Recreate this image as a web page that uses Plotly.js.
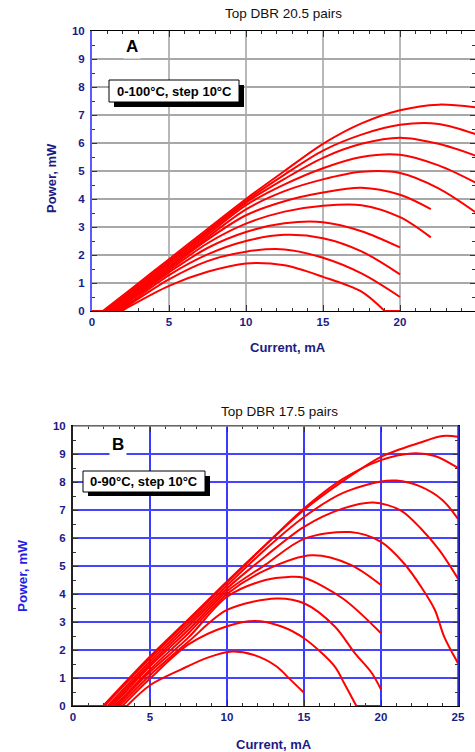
<!DOCTYPE html>
<html>
<head>
<meta charset="utf-8">
<script src="https://cdn.plot.ly/plotly-3.0.1.min.js"></script>
<style>html,body{margin:0;padding:0;background:#fff;}#chart{width:475px;height:752px;}</style>
</head>
<body>
<div id="chart"></div>
<script>
// ---------- Panel A: Top DBR 20.5 pairs (0-100 °C, step 10 °C) ----------
const tempsA = [0, 10, 20, 30, 40, 50, 60, 70, 80, 90, 100];
const currentA = [
  [0, 0.7, 2.5, 5, 7.5, 10, 12.5, 15, 17.5, 20, 22.5, 25],
  [0, 0.85, 2.5, 5, 7.5, 10, 12.5, 15, 17.5, 20, 22.5, 25],
  [0, 1.0, 2.5, 5, 7.5, 10, 12.5, 15, 17.5, 20, 22.5, 25],
  [0, 1.1, 2.5, 5, 7.5, 10, 12.5, 15, 17.5, 20, 22.5, 25],
  [0, 1.2, 2.5, 5, 7.5, 10, 12.5, 15, 17.5, 20, 22.5, 25],
  [0, 1.35, 2.5, 5, 7.5, 10, 12.5, 15, 17.5, 20, 22],
  [0, 1.5, 2.5, 5, 7.5, 10, 12.5, 15, 17.5, 20, 22],
  [0, 1.6, 2.5, 5, 7.5, 10, 12.5, 15, 17.5, 20],
  [0, 1.75, 2.5, 5, 7.5, 10, 12.5, 15, 17.5, 20],
  [0, 1.85, 2.5, 5, 7.5, 10, 12.5, 15, 17.5, 20],
  [0, 1.95, 2.5, 5, 7.5, 10, 12.5, 15, 17.5, 19, 20]
];
const powerA = [
  [0, 0, 0.77, 1.85, 2.93, 4.0, 5.0, 5.97, 6.7, 7.17, 7.37, 7.27],
  [0, 0, 0.7, 1.78, 2.86, 3.93, 4.87, 5.73, 6.3, 6.65, 6.68, 6.3],
  [0, 0, 0.63, 1.72, 2.8, 3.87, 4.72, 5.47, 5.97, 6.19, 5.97, 5.53],
  [0, 0, 0.57, 1.65, 2.72, 3.78, 4.52, 5.1, 5.5, 5.58, 5.2, 4.56],
  [0, 0, 0.52, 1.58, 2.63, 3.63, 4.28, 4.7, 4.97, 4.93, 4.38, 3.49],
  [0, 0, 0.46, 1.52, 2.55, 3.42, 3.92, 4.23, 4.4, 4.15, 3.64],
  [0, 0, 0.4, 1.45, 2.42, 3.12, 3.55, 3.76, 3.78, 3.35, 2.63],
  [0, 0, 0.37, 1.38, 2.25, 2.82, 3.13, 3.17, 2.85, 2.27],
  [0, 0, 0.3, 1.28, 2.02, 2.5, 2.72, 2.6, 2.13, 1.31],
  [0, 0, 0.25, 1.13, 1.78, 2.12, 2.2, 1.9, 1.34, 0.5],
  [0, 0, 0.18, 0.9, 1.4, 1.7, 1.63, 1.22, 0.69, 0, 0]
];

// ---------- Panel B: Top DBR 17.5 pairs (0-90 °C, step 10 °C) ----------
const tempsB = [0, 10, 20, 30, 40, 50, 60, 70, 80, 90];
const currentB = [
  [0, 1.95, 5, 7.5, 10, 12.5, 15, 17.5, 20, 22.5, 24, 25],
  [0, 2.05, 5, 7.5, 10, 12.5, 15, 17.5, 20, 22, 23.5, 25],
  [0, 2.25, 5, 7.5, 10, 12.5, 15, 17.5, 20, 21, 22.5, 24, 25],
  [0, 2.4, 5, 7.5, 10, 12.5, 15, 17.5, 19.5, 21.3, 22.6, 23.8, 25],
  [0, 2.55, 5, 7.5, 10, 12.5, 15, 18, 20, 21.5, 22.6, 23.5, 24.1, 25],
  [0, 2.7, 5, 7.5, 10, 12.5, 15.5, 18, 20],
  [0, 2.85, 5, 7.5, 10, 12.5, 14, 15, 17.5, 20],
  [0, 3.0, 5, 7.5, 10, 13.2, 15, 17, 18.3, 19.4, 20],
  [0, 3.2, 5, 7.5, 10, 11.8, 13.5, 15, 17, 17.6, 18.4, 20],
  [0, 3.5, 5, 7, 8.7, 10.2, 11.7, 13.2, 14.1, 15]
];
const powerB = [
  [0, 0, 1.77, 3.1, 4.45, 5.75, 7.0, 8.02, 8.9, 9.4, 9.64, 9.62],
  [0, 0, 1.7, 3.05, 4.4, 5.75, 7.05, 8.1, 8.78, 9.02, 8.93, 8.5],
  [0, 0, 1.6, 2.95, 4.3, 5.6, 6.75, 7.6, 8.02, 8.05, 7.85, 7.35, 6.68],
  [0, 0, 1.5, 2.85, 4.2, 5.35, 6.4, 7.05, 7.27, 6.98, 6.33, 5.56, 4.55],
  [0, 0, 1.42, 2.72, 4.1, 5.05, 5.97, 6.21, 5.86, 5.09, 4.26, 3.43, 2.48, 1.53],
  [0, 0, 1.3, 2.6, 4.0, 4.85, 5.38, 5.05, 4.32],
  [0, 0, 1.22, 2.45, 3.9, 4.5, 4.61, 4.58, 3.85, 2.6],
  [0, 0, 1.1, 2.3, 3.43, 3.84, 3.67, 2.84, 1.89, 1.18, 0.59],
  [0, 0, 0.98, 2.2, 2.85, 3.04, 2.85, 2.42, 1.41, 0.82, 0, 0],
  [0, 0, 0.74, 1.3, 1.72, 1.94, 1.83, 1.42, 0.95, 0.47]
];

const titleA = 'Top DBR 20.5 pairs';
const titleB = 'Top DBR 17.5 pairs';
const noteA = '0-100°C, step 10°C';
const noteB = '0-90°C, step 10°C';
const xTitle = 'Current, mA';
const yTitle = 'Power, mW';

// ---------- build ----------
const W = 475, H = 752;
const X = px => px / W;
const Y = py => 1 - py / H;
const FONT = 'Liberation Sans, Arial, Helvetica, sans-serif';
const NAVY = '#1b1b86';
const RED = '#ff0000';

const traces = [];
// zero-output stretches (below threshold / after roll-off) drawn straight,
// the lasing part drawn as a smooth curve through the read points.
function addCurve(xs, ys, t, xa, ya) {
  let a = 0;
  while (a + 1 < ys.length && ys[a + 1] === 0) a++;
  let b = ys.length - 1;
  while (b - 1 > a && ys[b - 1] === 0) b--;
  const base = {xaxis: xa, yaxis: ya, type: 'scatter', mode: 'lines', name: t + '°C', hoverinfo: 'x+y+name'};
  if (a > 0) traces.push(Object.assign({}, base, {x: xs.slice(0, a + 1), y: ys.slice(0, a + 1), line: {color: RED, width: 2}}));
  traces.push(Object.assign({}, base, {x: xs.slice(a, b + 1), y: ys.slice(a, b + 1), line: {color: RED, width: 2, shape: 'spline', smoothing: 0.9}}));
  if (b < ys.length - 1) traces.push(Object.assign({}, base, {x: xs.slice(b), y: ys.slice(b), line: {color: RED, width: 2}}));
}
tempsA.forEach((t, i) => addCurve(currentA[i], powerA[i], t, 'x', 'y'));
tempsB.forEach((t, i) => addCurve(currentB[i], powerB[i], t, 'x2', 'y2'));

const tickFont = {family: FONT, size: 11.5, color: NAVY, weight: 'bold'};
function xAx(domain, anchor, range, grid) {
  return {
    domain: domain, anchor: anchor, range: range, dtick: 5, tick0: 0,
    ticks: 'inside', ticklen: 6, tickwidth: 1, tickcolor: '#333',
    showline: true, linecolor: '#000', linewidth: 1, mirror: 'ticks',
    showgrid: true, gridcolor: grid, gridwidth: 2, zeroline: false,
    tickfont: tickFont, layer: 'below traces', fixedrange: true,
    minor: {dtick: 1, ticks: 'inside', ticklen: 3, tickcolor: '#333', showgrid: false}
  };
}
function yAx(domain, anchor, grid, line) {
  return {
    domain: domain, anchor: anchor, range: [0, 10], dtick: 1, tick0: 0,
    ticks: 'inside', ticklen: 5, tickwidth: 1, tickcolor: '#333',
    showline: true, linecolor: line, linewidth: 2, mirror: 'ticks',
    showgrid: true, gridcolor: grid, gridwidth: 2, zeroline: false,
    tickfont: tickFont, layer: 'below traces', fixedrange: true, ticklabelstandoff: 3,
    minor: {dtick: 0.5, ticks: 'inside', ticklen: 3, tickcolor: '#333', showgrid: false}
  };
}

const layout = {
  width: W, height: H, margin: {l: 0, r: 0, t: 0, b: 0, pad: 0},
  paper_bgcolor: '#fff', plot_bgcolor: '#fff', showlegend: false,
  font: {family: FONT},
  xaxis: xAx([X(92), 1], 'y', [0, 383 / 15.4], '#b8b8b8'),
  yaxis: yAx([Y(311), Y(31)], 'x', '#a8a8a8', '#5a5aff'),
  xaxis2: xAx([X(73), X(458)], 'y2', [0, 25], '#3b3bff'),
  yaxis2: yAx([Y(706), Y(426)], 'x2', '#4444ff', '#222'),
  shapes: [
    {type: 'rect', xref: 'paper', yref: 'paper', x0: X(114), x1: X(244), y0: Y(107), y1: Y(85), fillcolor: '#000', line: {width: 0}, layer: 'above'},
    {type: 'rect', xref: 'paper', yref: 'paper', x0: X(109), x1: X(239), y0: Y(102), y1: Y(80), fillcolor: '#fff', line: {color: '#000', width: 1}, layer: 'above'},
    {type: 'rect', xref: 'paper', yref: 'paper', x0: X(88), x1: X(210), y0: Y(496), y1: Y(476), fillcolor: '#000', line: {width: 0}, layer: 'above'},
    {type: 'rect', xref: 'paper', yref: 'paper', x0: X(83), x1: X(205), y0: Y(492), y1: Y(471), fillcolor: '#fff', line: {color: '#000', width: 1}, layer: 'above'},
    {type: 'line', xref: 'paper', yref: 'paper', x0: X(73), x1: X(458), y0: Y(426), y1: Y(426), line: {color: '#8a8a8a', width: 1.5}, layer: 'above'},
    {type: 'line', xref: 'paper', yref: 'paper', x0: X(458), x1: X(458), y0: Y(426), y1: Y(706), line: {color: '#2a2aff', width: 1.5}, layer: 'above'}
  ],
  annotations: [
    {xref: 'paper', yref: 'paper', x: X(283), y: Y(14), text: titleA, showarrow: false, xanchor: 'center', yanchor: 'middle', font: {family: FONT, size: 13.5, color: '#111'}},
    {xref: 'paper', yref: 'paper', x: X(279), y: Y(411), text: titleB, showarrow: false, xanchor: 'center', yanchor: 'middle', font: {family: FONT, size: 13.5, color: '#111'}},
    {xref: 'paper', yref: 'paper', x: X(131.5), y: Y(46), text: '<b>A</b>', showarrow: false, xanchor: 'center', yanchor: 'middle', bgcolor: '#fff', borderpad: 2, font: {family: FONT, size: 17, color: '#000'}},
    {xref: 'paper', yref: 'paper', x: X(117.5), y: Y(444), text: '<b>B</b>', showarrow: false, xanchor: 'center', yanchor: 'middle', bgcolor: '#fff', borderpad: 2, font: {family: FONT, size: 17, color: '#000'}},
    {xref: 'paper', yref: 'paper', x: X(174), y: Y(91), text: '<b>' + noteA + '</b>', showarrow: false, xanchor: 'center', yanchor: 'middle', font: {family: FONT, size: 13, color: '#000'}},
    {xref: 'paper', yref: 'paper', x: X(144), y: Y(481.5), text: '<b>' + noteB + '</b>', showarrow: false, xanchor: 'center', yanchor: 'middle', font: {family: FONT, size: 13, color: '#000'}},
    {xref: 'paper', yref: 'paper', x: X(52), y: Y(178), text: '<b>' + yTitle + '</b>', textangle: -90, showarrow: false, xanchor: 'center', yanchor: 'middle', font: {family: FONT, size: 13, color: NAVY}},
    {xref: 'paper', yref: 'paper', x: X(287.5), y: Y(347.5), text: '<b>' + xTitle + '</b>', showarrow: false, xanchor: 'center', yanchor: 'middle', font: {family: FONT, size: 13, color: NAVY}},
    {xref: 'paper', yref: 'paper', x: X(22), y: Y(576), text: '<b>' + yTitle + '</b>', textangle: -90, showarrow: false, xanchor: 'center', yanchor: 'middle', font: {family: FONT, size: 13.5, color: '#1e1ee6'}},
    {xref: 'paper', yref: 'paper', x: X(273.5), y: Y(744), text: '<b>' + xTitle + '</b>', showarrow: false, xanchor: 'center', yanchor: 'middle', font: {family: FONT, size: 13, color: NAVY}}
  ]
};

Plotly.newPlot('chart', traces, layout, {displayModeBar: false, responsive: false});
</script>
</body>
</html>
